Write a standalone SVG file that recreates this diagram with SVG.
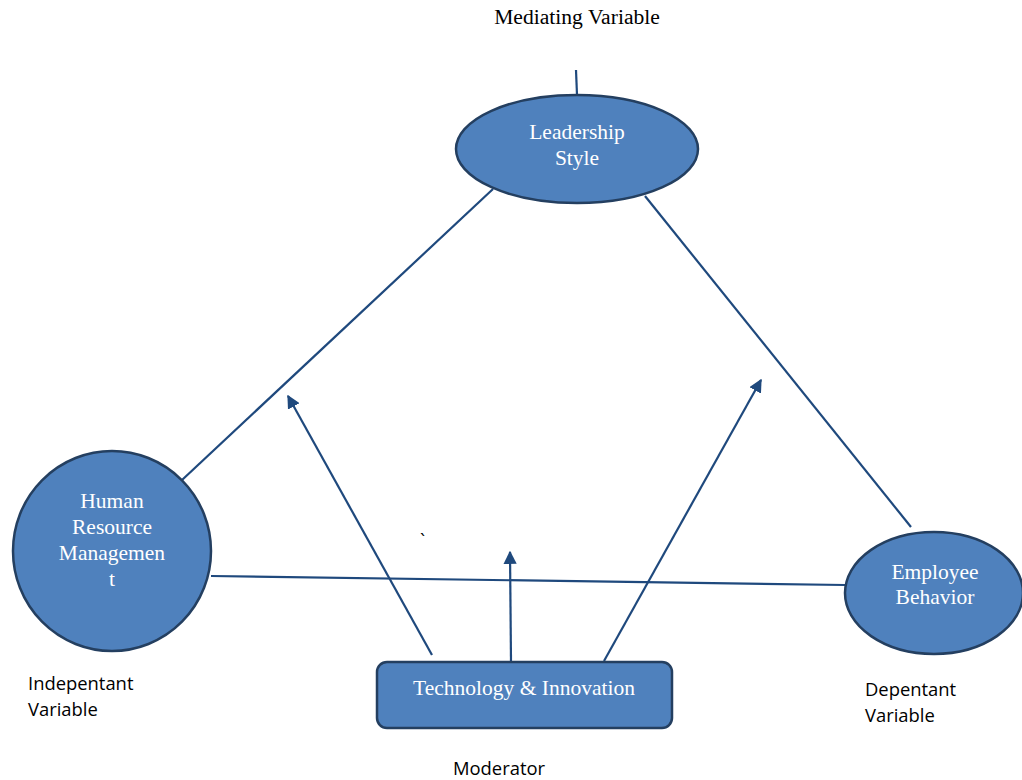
<svg xmlns="http://www.w3.org/2000/svg" width="1022" height="780" viewBox="0 0 1022 780">
<defs>
<style>
.node{fill:#4F81BD;stroke:#243F60;stroke-width:2.5}
.lbl{font-family:"Liberation Serif",serif;font-size:21.5px;fill:#FFFFFF;text-anchor:middle}
.cap{font-family:"Open Sans","Liberation Sans",sans-serif;font-size:18.4px;fill:#000}
.capS{font-family:"Liberation Serif",serif;font-size:21.6px;fill:#000}
.ln{stroke:#1F497D;stroke-width:2.2;fill:none}
</style>
<marker id="ah" viewBox="0 0 10 10" refX="9" refY="5" markerWidth="6" markerHeight="6" markerUnits="strokeWidth" orient="auto">
<path d="M0,0 L10,5 L0,10 z" fill="#1F497D"/>
</marker>
</defs>
<rect width="1022" height="780" fill="#FFFFFF"/>
<g id="connectors">
<line class="ln" x1="576" y1="70" x2="577" y2="95"/>
<line class="ln" x1="493" y1="189" x2="182" y2="480"/>
<line class="ln" x1="645" y1="196" x2="911" y2="527"/>
<line class="ln" x1="211" y1="576" x2="845" y2="585"/>
<line class="ln" x1="432" y1="655" x2="288" y2="396" marker-end="url(#ah)"/>
<line class="ln" x1="511" y1="662" x2="510" y2="552" marker-end="url(#ah)"/>
<line class="ln" x1="604" y1="661" x2="761" y2="380" marker-end="url(#ah)"/>
</g>
<g id="leadership">
<ellipse class="node" cx="577" cy="149" rx="121" ry="54"/>
<text class="lbl" x="577" y="139">Leadership</text>
<text class="lbl" x="577" y="165">Style</text>
</g>
<g id="hrm">
<ellipse class="node" cx="112" cy="551" rx="99" ry="100"/>
<text class="lbl" x="112" y="508">Human</text>
<text class="lbl" x="112" y="534">Resource</text>
<text class="lbl" x="112" y="560">Managemen</text>
<text class="lbl" x="112" y="586">t</text>
</g>
<g id="employee">
<ellipse class="node" cx="934" cy="593" rx="89" ry="61"/>
<text class="lbl" x="935" y="579">Employee</text>
<text class="lbl" x="935" y="604">Behavior</text>
</g>
<g id="technology">
<rect class="node" x="377" y="662" width="295" height="66" rx="10" ry="10"/>
<text class="lbl" x="524" y="695">Technology &amp; Innovation</text>
</g>
<g id="captions">
<text class="capS" x="577" y="24" text-anchor="middle">Mediating Variable</text>
<text class="cap" x="28" y="690">Indepentant</text>
<text class="cap" x="28" y="716">Variable</text>
<text class="cap" x="865" y="696">Depentant</text>
<text class="cap" x="865" y="722">Variable</text>
<text class="cap" x="453" y="775">Moderator</text>
<text class="cap" x="420" y="547" font-size="12">`</text>
</g>
</svg>
